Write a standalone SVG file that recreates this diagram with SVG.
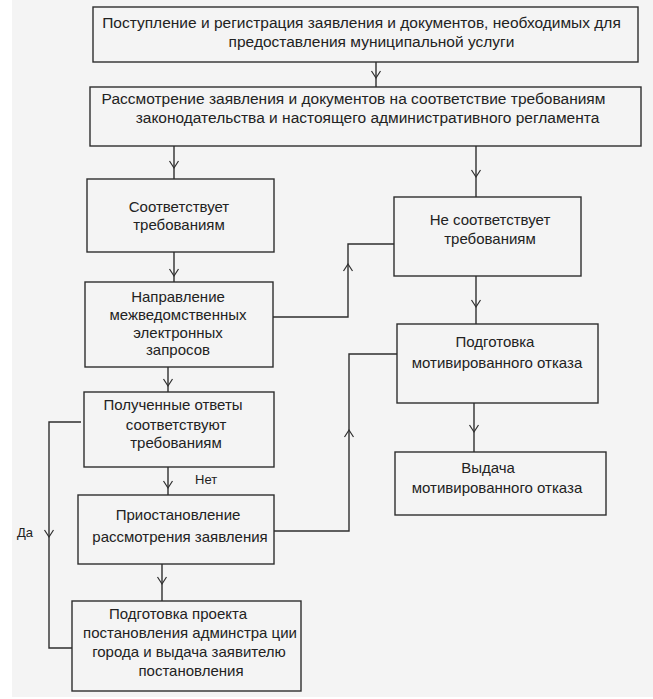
<svg xmlns="http://www.w3.org/2000/svg" xmlns:xlink="http://www.w3.org/1999/xlink" width="653" height="699" viewBox="0 0 653 699">
<style>
.bx{fill:#f4f4f4;stroke:#2e2e2e;stroke-width:1.4}
.ln{fill:none;stroke:#2e2e2e;stroke-width:1.4}
.ah{fill:none;stroke:#2e2e2e;stroke-width:1.2}
text{font-family:"Liberation Sans",Arial,sans-serif;font-size:15px;fill:#222;text-anchor:middle}
.tp{font-size:15.5px}
.lb{font-size:13px;text-anchor:start}
</style>
<defs>
<path id="ad" class="ah" d="M-4.5,-7 L0,0 L4.5,-7"/>
<path id="au" class="ah" d="M-4.5,7 L0,0 L4.5,7"/>
</defs>
<rect x="0" y="0" width="653" height="699" fill="#ffffff"/>
<rect x="12" y="0" width="641" height="697" fill="#f4f4f4"/>

<g id="connectors">
<path class="ln" d="M376,62 V87"/><use xlink:href="#ad" x="376" y="78"/>
<path class="ln" d="M174,146 V179"/><use xlink:href="#ad" x="174" y="168"/>
<path class="ln" d="M476,146 V197"/><use xlink:href="#ad" x="476" y="177"/>
<path class="ln" d="M174,252 V282"/><use xlink:href="#ad" x="174" y="276"/>
<path class="ln" d="M273,317 H348 V244 H394"/><use xlink:href="#au" x="348" y="264"/>
<path class="ln" d="M476,276 V324"/><use xlink:href="#ad" x="476" y="307"/>
<path class="ln" d="M474,403 V452"/><use xlink:href="#ad" x="474" y="432"/>
<path class="ln" d="M168,367 V392"/><use xlink:href="#ad" x="168" y="386"/>
<path class="ln" d="M81,422 H49 V648 H72"/><use xlink:href="#ad" x="49" y="537"/>
<path class="ln" d="M168,467 V495"/><use xlink:href="#ad" x="168" y="488"/>
<path class="ln" d="M274,531 H349 V354 H397"/><use xlink:href="#au" x="349" y="430"/>
<path class="ln" d="M162,564 V601"/><use xlink:href="#ad" x="162" y="584"/>
<text class="lb" x="17" y="537">Да</text>
<text class="lb" x="195" y="484">Нет</text>
</g>

<g id="n1">
<rect class="bx" x="93" y="7" width="545" height="55"/>
<text class="tp" x="361.5" y="28">Поступление и регистрация заявления и документов, необходимых для</text>
<text class="tp" x="371.5" y="47">предоставления муниципальной услуги</text>
</g>
<g id="n2">
<rect class="bx" x="90" y="87" width="551" height="59"/>
<text class="tp" x="353.5" y="104">Рассмотрение заявления и документов на соответствие требованиям</text>
<text class="tp" x="367.5" y="123">законодательства и настоящего административного регламента</text>
</g>
<g id="n3">
<rect class="bx" x="87" y="179" width="187" height="73"/>
<text x="179" y="212">Соответствует</text>
<text x="179" y="230">требованиям</text>
</g>
<g id="n4">
<rect class="bx" x="85" y="282" width="188" height="85"/>
<text x="178" y="302">Направление</text>
<text x="178" y="320">межведомственных</text>
<text x="178" y="338">электронных</text>
<text x="178" y="355">запросов</text>
</g>
<g id="n5">
<rect class="bx" x="394" y="197" width="187" height="79"/>
<text x="490" y="225">Не соответствует</text>
<text x="490" y="244">требованиям</text>
</g>
<g id="n6">
<rect class="bx" x="397" y="324" width="201" height="79"/>
<text x="495" y="347">Подготовка</text>
<text x="497" y="368">мотивированного отказа</text>
</g>
<g id="n7">
<rect class="bx" x="395" y="452" width="211" height="63"/>
<text x="488" y="473">Выдача</text>
<text x="497" y="493">мотивированного отказа</text>
</g>
<g id="n8">
<rect class="bx" x="84" y="392" width="190" height="75"/>
<text x="173" y="410">Полученные ответы</text>
<text x="176" y="430">соответствуют</text>
<text x="176" y="448">требованиям</text>
</g>
<g id="n9">
<rect class="bx" x="78" y="495" width="196" height="69"/>
<text x="178" y="520">Приостановление</text>
<text x="180" y="542">рассмотрения заявления</text>
</g>
<g id="n10">
<rect class="bx" x="72" y="601" width="229" height="90"/>
<text x="178" y="619">Подготовка проекта</text>
<text x="190" y="638">постановления админстра ции</text>
<text x="189" y="657">города и выдача заявителю</text>
<text x="191" y="676">постановления</text>
</g>
</svg>
